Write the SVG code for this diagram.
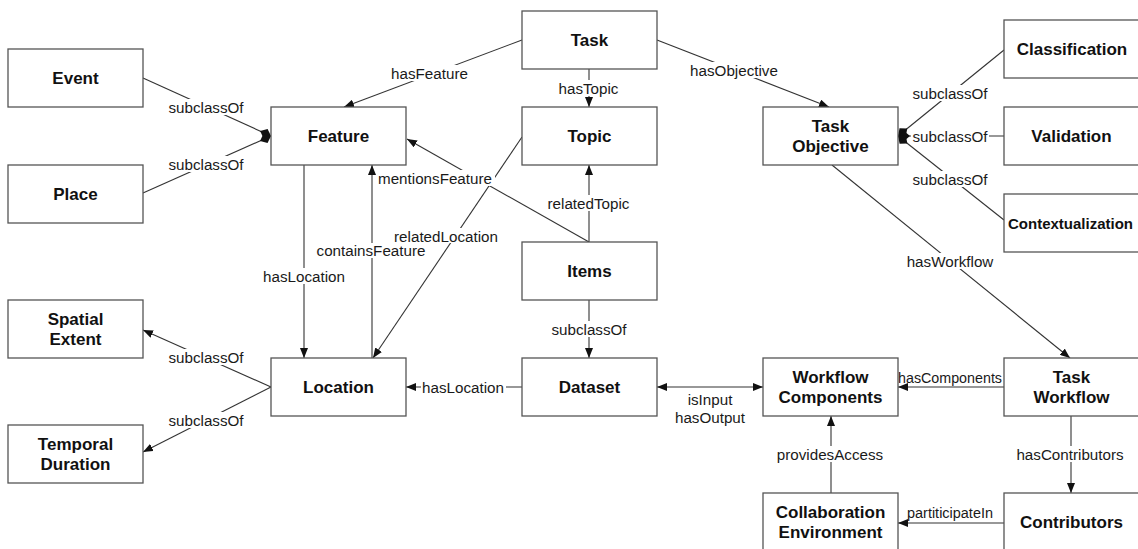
<svg xmlns="http://www.w3.org/2000/svg" width="1138" height="549" viewBox="0 0 1138 549">
  <style>
    .box { fill: #fff; stroke: #555; stroke-width: 1.3; }
    .name { font-family: "Liberation Sans", Arial, sans-serif; font-weight: bold; font-size: 17px; fill: #111; text-anchor: middle; dominant-baseline: central; }
    .edge { fill: none; stroke: #333; stroke-width: 1.1; }
    .arrow { marker-end: url(#arrow); }
    .diamond { marker-end: url(#diamond); }
    .lbl { font-family: "Liberation Sans", Arial, sans-serif; font-size: 15.2px; fill: #1a1a1a; text-anchor: middle; dominant-baseline: central; }
    .bg { fill: #fff; }
  </style>
  <defs>
    <marker id="arrow" viewBox="0 0 10 8" refX="10" refY="4" markerWidth="10" markerHeight="8" markerUnits="userSpaceOnUse" orient="auto-start-reverse">
      <path d="M0,0 L10,4 L0,8 z" fill="#111"/>
    </marker>
    <marker id="diamond" viewBox="0 0 12 10" refX="12" refY="5" markerWidth="12" markerHeight="10" markerUnits="userSpaceOnUse" orient="auto">
      <path d="M0,5 L6,0 L12,5 L6,10 z" fill="#111"/>
    </marker>
  </defs>

  <rect width="1138" height="549" fill="#fff"/>

  <!-- connectors -->
  <g id="connectors">
    <line class="edge arrow" x1="522" y1="40" x2="344" y2="107"/>
    <line class="edge arrow" x1="589" y1="69" x2="589" y2="107"/>
    <line class="edge arrow" x1="657" y1="40" x2="829" y2="107"/>
    <line class="edge diamond" x1="143" y1="78" x2="271" y2="136"/>
    <line class="edge diamond" x1="143" y1="193" x2="271" y2="136"/>
    <line class="edge diamond" x1="1004" y1="50" x2="898" y2="136"/>
    <line class="edge diamond" x1="1004" y1="136" x2="898" y2="136"/>
    <line class="edge diamond" x1="1004" y1="220" x2="898" y2="136"/>
    <line class="edge arrow" x1="304" y1="165" x2="304" y2="358"/>
    <line class="edge arrow" x1="372" y1="358" x2="372" y2="165"/>
    <line class="edge arrow" x1="589" y1="242" x2="407" y2="139"/>
    <line class="edge arrow" x1="522" y1="137" x2="373" y2="358"/>
    <line class="edge arrow" x1="589" y1="242" x2="589" y2="165"/>
    <line class="edge arrow" x1="589" y1="300" x2="589" y2="358"/>
    <line class="edge arrow" x1="522" y1="387" x2="406" y2="387"/>
    <line class="edge arrow" x1="657" y1="387" x2="763" y2="387" marker-start="url(#arrow)"/>
    <line class="edge arrow" x1="832" y1="165" x2="1070" y2="358"/>
    <line class="edge arrow" x1="1004" y1="387" x2="898" y2="387"/>
    <line class="edge arrow" x1="1071" y1="416" x2="1071" y2="493"/>
    <line class="edge arrow" x1="1004" y1="523" x2="898" y2="523"/>
    <line class="edge arrow" x1="831" y1="493" x2="831" y2="416"/>
    <line class="edge arrow" x1="271" y1="387" x2="143" y2="330"/>
    <line class="edge arrow" x1="271" y1="387" x2="143" y2="452"/>

    <!-- edge labels on white plates -->
    <rect class="bg" x="389" y="65" width="81" height="16"/>
    <text class="lbl" x="429.5" y="73">hasFeature</text>
    <rect class="bg" x="556" y="80" width="65" height="16"/>
    <text class="lbl" x="588.5" y="88">hasTopic</text>
    <rect class="bg" x="689" y="62" width="90" height="16"/>
    <text class="lbl" x="734" y="70">hasObjective</text>
    <rect class="bg" x="166" y="99" width="80" height="16"/>
    <text class="lbl" x="206" y="107">subclassOf</text>
    <rect class="bg" x="166" y="156" width="80" height="16"/>
    <text class="lbl" x="206" y="164">subclassOf</text>
    <rect class="bg" x="910" y="85" width="80" height="16"/>
    <text class="lbl" x="950" y="93">subclassOf</text>
    <rect class="bg" x="911" y="128" width="78" height="16"/>
    <text class="lbl" x="950" y="136">subclassOf</text>
    <rect class="bg" x="910" y="171" width="80" height="16"/>
    <text class="lbl" x="950" y="179">subclassOf</text>
    <rect class="bg" x="376" y="170" width="119" height="16"/>
    <text class="lbl" x="435" y="178">mentionsFeature</text>
    <rect class="bg" x="545" y="195" width="88" height="16"/>
    <text class="lbl" x="588.5" y="203">relatedTopic</text>
    <rect class="bg" x="315" y="243" width="113" height="15"/>
    <text class="lbl" x="371" y="250">containsFeature</text>
    <rect class="bg" x="392" y="228" width="108" height="15"/>
    <text class="lbl" x="446" y="236">relatedLocation</text>
    <rect class="bg" x="261" y="268" width="86" height="16"/>
    <text class="lbl" x="304" y="276">hasLocation</text>
    <rect class="bg" x="549" y="321" width="80" height="16"/>
    <text class="lbl" x="589" y="329">subclassOf</text>
    <rect class="bg" x="421" y="379" width="85" height="16"/>
    <text class="lbl" x="463" y="387">hasLocation</text>
    <text class="lbl" x="710" y="399">isInput</text>
    <text class="lbl" x="710" y="417">hasOutput</text>
    <rect class="bg" x="904" y="253" width="92" height="16"/>
    <text class="lbl" x="950" y="261">hasWorkflow</text>
    <text class="lbl" x="950" y="377" textLength="104" lengthAdjust="spacingAndGlyphs">hasComponents</text>
    <rect class="bg" x="775" y="446" width="110" height="16"/>
    <text class="lbl" x="830" y="454">providesAccess</text>
    <rect class="bg" x="1015" y="446" width="111" height="16"/>
    <text class="lbl" x="1070" y="454">hasContributors</text>
    <text class="lbl" x="950" y="512" textLength="86" lengthAdjust="spacingAndGlyphs">partiticipateIn</text>
    <rect class="bg" x="166" y="349" width="80" height="16"/>
    <text class="lbl" x="206" y="357">subclassOf</text>
    <rect class="bg" x="166" y="412" width="80" height="16"/>
    <text class="lbl" x="206" y="420">subclassOf</text>
  </g>

  <!-- nodes -->
  <g id="event"><rect class="box" x="8" y="49" width="135" height="58"/><text class="name" x="75.5" y="78">Event</text></g>
  <g id="place"><rect class="box" x="8" y="165" width="135" height="58"/><text class="name" x="75.5" y="194">Place</text></g>
  <g id="feature"><rect class="box" x="271" y="107" width="135" height="58"/><text class="name" x="338.5" y="136">Feature</text></g>
  <g id="task"><rect class="box" x="522" y="11" width="135" height="58"/><text class="name" x="589.5" y="40">Task</text></g>
  <g id="topic"><rect class="box" x="522" y="107" width="135" height="58"/><text class="name" x="589.5" y="136">Topic</text></g>
  <g id="task-objective"><rect class="box" x="763" y="107" width="135" height="58"/><text class="name" x="830.5" y="126">Task</text><text class="name" x="830.5" y="146">Objective</text></g>
  <g id="classification"><rect class="box" x="1004" y="20" width="135" height="58"/><text class="name" x="1072" y="49">Classification</text></g>
  <g id="validation"><rect class="box" x="1004" y="107" width="135" height="58"/><text class="name" x="1071.5" y="136">Validation</text></g>
  <g id="contextualization"><rect class="box" x="1004" y="194" width="135" height="58"/><text class="name" x="1070.5" y="223" style="font-size:15px">Contextualization</text></g>
  <g id="items"><rect class="box" x="522" y="242" width="135" height="58"/><text class="name" x="589.5" y="271">Items</text></g>
  <g id="spatial-extent"><rect class="box" x="8" y="300" width="135" height="58"/><text class="name" x="75.5" y="319">Spatial</text><text class="name" x="75.5" y="339">Extent</text></g>
  <g id="location"><rect class="box" x="271" y="358" width="135" height="58"/><text class="name" x="338.5" y="387">Location</text></g>
  <g id="dataset"><rect class="box" x="522" y="358" width="135" height="58"/><text class="name" x="589.5" y="387">Dataset</text></g>
  <g id="workflow-components"><rect class="box" x="763" y="358" width="135" height="58"/><text class="name" x="830.5" y="377">Workflow</text><text class="name" x="830.5" y="397">Components</text></g>
  <g id="task-workflow"><rect class="box" x="1004" y="358" width="135" height="58"/><text class="name" x="1071.5" y="377">Task</text><text class="name" x="1071.5" y="397">Workflow</text></g>
  <g id="temporal-duration"><rect class="box" x="8" y="425" width="135" height="58"/><text class="name" x="75.5" y="444">Temporal</text><text class="name" x="75.5" y="464">Duration</text></g>
  <g id="collaboration-environment"><rect class="box" x="763" y="493" width="135" height="58"/><text class="name" x="830.5" y="512">Collaboration</text><text class="name" x="830.5" y="532">Environment</text></g>
  <g id="contributors"><rect class="box" x="1004" y="493" width="135" height="58"/><text class="name" x="1071.5" y="522">Contributors</text></g>
</svg>
